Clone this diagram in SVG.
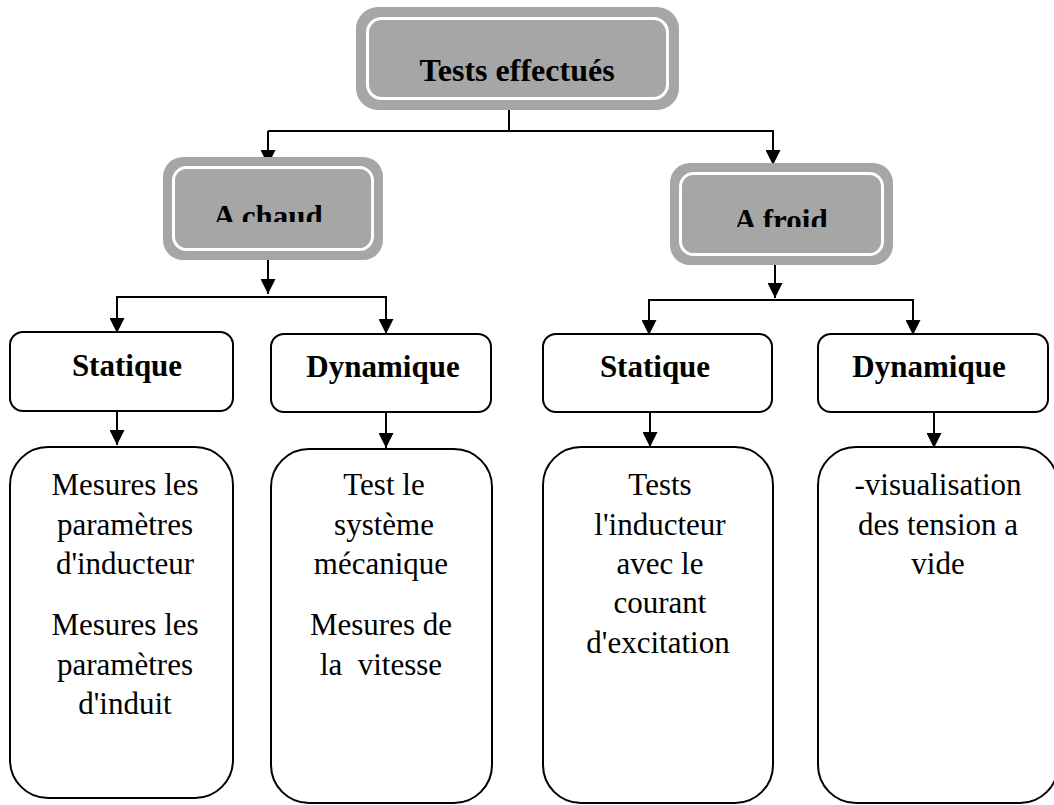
<svg xmlns="http://www.w3.org/2000/svg" width="1054" height="805" viewBox="0 0 1054 805">
<style>
.gray-outer{fill:#a6a6a6;stroke:none}
.gray-inner{fill:none;stroke:#ffffff;stroke-width:3}
.box{fill:#ffffff;stroke:#000000;stroke-width:2}
.conn{fill:none;stroke:#000000;stroke-width:2}
.bold{font-family:"Liberation Serif","Times New Roman",serif;font-weight:bold;font-size:31px;fill:#000;text-anchor:middle}
.big{font-size:32px}
.reg{font-family:"Liberation Serif","Times New Roman",serif;font-size:31px;fill:#000;text-anchor:middle}
</style>
<defs>
<marker id="ah" viewBox="0 0 15 15" refX="15" refY="7.5" markerWidth="15" markerHeight="15" markerUnits="userSpaceOnUse" orient="auto">
<path d="M0,0 L15,7.5 L0,15 Z" fill="#000"/>
</marker>
<clipPath id="clipChaud"><rect x="163" y="150" width="220" height="72"/></clipPath>
<clipPath id="clipFroid"><rect x="670" y="150" width="223" height="77"/></clipPath>
</defs>
<rect width="1054" height="805" fill="#ffffff"/>

<g id="connectors">
<path class="conn" d="M509,110 V131"/>
<path class="conn" d="M268,131 H774"/>
<path class="conn" d="M268,131 V165" marker-end="url(#ah)"/>
<path class="conn" d="M773,131 V165" marker-end="url(#ah)"/>
<path class="conn" d="M268,260 V294" marker-end="url(#ah)"/>
<path class="conn" d="M116,297 H387"/>
<path class="conn" d="M117,297 V333" marker-end="url(#ah)"/>
<path class="conn" d="M386,297 V334" marker-end="url(#ah)"/>
<path class="conn" d="M775,265 V298" marker-end="url(#ah)"/>
<path class="conn" d="M648,300 H914"/>
<path class="conn" d="M649,300 V335" marker-end="url(#ah)"/>
<path class="conn" d="M913,300 V335" marker-end="url(#ah)"/>
<path class="conn" d="M117,411 V445" marker-end="url(#ah)"/>
<path class="conn" d="M386,412 V448" marker-end="url(#ah)"/>
<path class="conn" d="M650,413 V447" marker-end="url(#ah)"/>
<path class="conn" d="M934,413 V448" marker-end="url(#ah)"/>
</g>

<g id="node-tests">
<rect class="gray-outer" x="356" y="7" width="323" height="103" rx="22"/>
<rect class="gray-inner" x="367.5" y="18.5" width="300" height="80" rx="14"/>
<text class="bold big" x="517" y="81">Tests effectués</text>
</g>

<g id="node-chaud">
<rect class="gray-outer" x="163" y="157" width="220" height="103" rx="20"/>
<rect class="gray-inner" x="173.5" y="167.5" width="199" height="82" rx="13"/>
<text class="bold" x="268" y="227" clip-path="url(#clipChaud)">A chaud</text>
</g>

<g id="node-froid">
<rect class="gray-outer" x="670" y="163" width="223" height="102" rx="20"/>
<rect class="gray-inner" x="680.5" y="173.5" width="202" height="81" rx="13"/>
<text class="bold" x="781" y="231" clip-path="url(#clipFroid)">A froid</text>
</g>

<g id="node-statique-chaud">
<rect class="box" x="10" y="332" width="223" height="79" rx="13"/>
<text class="bold" x="127" y="376">Statique</text>
</g>

<g id="node-dynamique-chaud">
<rect class="box" x="271" y="334" width="220" height="78" rx="13"/>
<text class="bold" x="383" y="377">Dynamique</text>
</g>

<g id="node-statique-froid">
<rect class="box" x="543" y="334" width="229" height="78" rx="13"/>
<text class="bold" x="655" y="377">Statique</text>
</g>

<g id="node-dynamique-froid">
<rect class="box" x="818" y="334" width="230" height="78" rx="13"/>
<text class="bold" x="929" y="377">Dynamique</text>
</g>

<g id="node-mesures-chaud">
<rect class="box" x="10" y="447" width="223" height="351" rx="38"/>
<text class="reg" x="125" y="495">Mesures les</text>
<text class="reg" x="125" y="535">paramètres</text>
<text class="reg" x="125" y="574">d'inducteur</text>
<text class="reg" x="125" y="635">Mesures les</text>
<text class="reg" x="125" y="675">paramètres</text>
<text class="reg" x="125" y="714">d'induit</text>
</g>

<g id="node-test-meca">
<rect class="box" x="271" y="449" width="221" height="354" rx="38"/>
<text class="reg" x="384" y="495">Test le</text>
<text class="reg" x="384" y="535">système</text>
<text class="reg" x="381" y="574">mécanique</text>
<text class="reg" x="381" y="635">Mesures de</text>
<text class="reg" x="381" y="675" xml:space="preserve">la  vitesse</text>
</g>

<g id="node-tests-inducteur">
<rect class="box" x="543" y="447" width="230" height="356" rx="38"/>
<text class="reg" x="660" y="495">Tests</text>
<text class="reg" x="660" y="535">l'inducteur</text>
<text class="reg" x="660" y="574">avec le</text>
<text class="reg" x="660" y="613">courant</text>
<text class="reg" x="658" y="653">d'excitation</text>
</g>

<g id="node-visualisation">
<rect class="box" x="818" y="447" width="240" height="356" rx="38"/>
<text class="reg" x="938" y="495">-visualisation</text>
<text class="reg" x="938" y="535">des tension a</text>
<text class="reg" x="938" y="574">vide</text>
</g>
</svg>
